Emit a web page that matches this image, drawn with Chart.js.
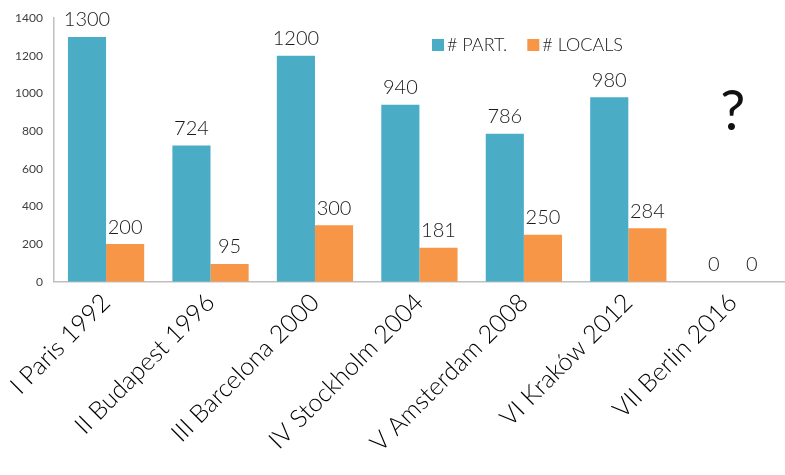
<!DOCTYPE html>
<html>
<head>
<meta charset="utf-8">
<script src="https://cdn.jsdelivr.net/npm/chart.js@4/dist/chart.umd.min.js"></script>
<style>
  html, body { margin: 0; padding: 0; background: #ffffff; }
  #wrap { width: 785px; height: 475px; position: relative; }
</style>
</head>
<body>
<div id="wrap"><canvas id="c" width="785" height="475"></canvas></div>
<script>
const categories = ["I Paris 1992", "II Budapest 1996", "III Barcelona 2000", "IV Stockholm 2004", "V Amsterdam 2008", "VI Kraków 2012", "VII Berlin 2016"];
const participants = [1300, 724, 1200, 940, 786, 980, 0];
const locals = [200, 95, 300, 181, 250, 284, 0];
const yTicks = [0, 200, 400, 600, 800, 1000, 1200, 1400];
const seriesNames = ["# PART.", "# LOCALS"];
const unknownMark = { category: 6, value: 900, text: "?" };

const BLUE = "#4BACC6";
const ORANGE = "#F79646";

const valueLabels = {
  id: "valueLabels",
  afterDatasetsDraw(chart) {
    const ctx = chart.ctx;
    ctx.save();
    ctx.font = "300 20px Lato";
    ctx.fillStyle = "#1a1a1a";
    ctx.textAlign = "center";
    ctx.textBaseline = "bottom";
    chart.data.datasets.forEach((ds, i) => {
      const meta = chart.getDatasetMeta(i);
      meta.data.forEach((bar, j) => {
        ctx.fillText(String(ds.data[j]), bar.x, bar.y - 7);
      });
    });
    const xs = chart.scales.x, ys = chart.scales.y;
    ctx.font = "56px Lato";
    ctx.fillStyle = "#111111";
    ctx.textBaseline = "middle";
    ctx.fillText(unknownMark.text, xs.getPixelForValue(unknownMark.category), ys.getPixelForValue(unknownMark.value));
    ctx.font = "300 18px Lato";
    ctx.textAlign = "left";
    ctx.textBaseline = "middle";
    let x = 432;
    const y = 45;
    const colors = [BLUE, ORANGE];
    seriesNames.forEach((n, i) => {
      ctx.fillStyle = colors[i];
      ctx.fillRect(x, y - 6, 12, 12);
      ctx.fillStyle = "#1a1a1a";
      ctx.fillText(n, x + 15, y);
      x += 15 + ctx.measureText(n).width + 20;
    });
    ctx.restore();
  }
};

new Chart(document.getElementById("c"), {
  type: "bar",
  data: {
    labels: categories,
    datasets: [
      { label: seriesNames[0], data: participants, backgroundColor: BLUE, categoryPercentage: 0.73, barPercentage: 1.0 },
      { label: seriesNames[1], data: locals, backgroundColor: ORANGE, categoryPercentage: 0.73, barPercentage: 1.0 }
    ]
  },
  options: {
    responsive: false,
    animation: false,
    layout: { padding: { top: 10, right: 0, bottom: 11, left: 4 } },
    plugins: { legend: { display: false }, tooltip: { enabled: false } },
    scales: {
      y: {
        min: 0, max: 1400,
        afterBuildTicks(axis) { axis.ticks = yTicks.map(v => ({ value: v })); },
        grid: { display: false, drawTicks: false },
        border: { display: true, color: "#bfbfbf", width: 1.5 },
        ticks: { font: { family: "Lato", size: 12 }, color: "#404040", padding: 11, callback: v => String(v) }
      },
      x: {
        grid: { display: false, drawTicks: false },
        border: { display: true, color: "#bfbfbf", width: 1.5 },
        ticks: { font: { family: "Lato", size: 25, weight: 300 }, color: "#000000", minRotation: 45, maxRotation: 45, padding: 6, autoSkip: false }
      }
    }
  },
  plugins: [valueLabels]
});
</script>
</body>
</html>
